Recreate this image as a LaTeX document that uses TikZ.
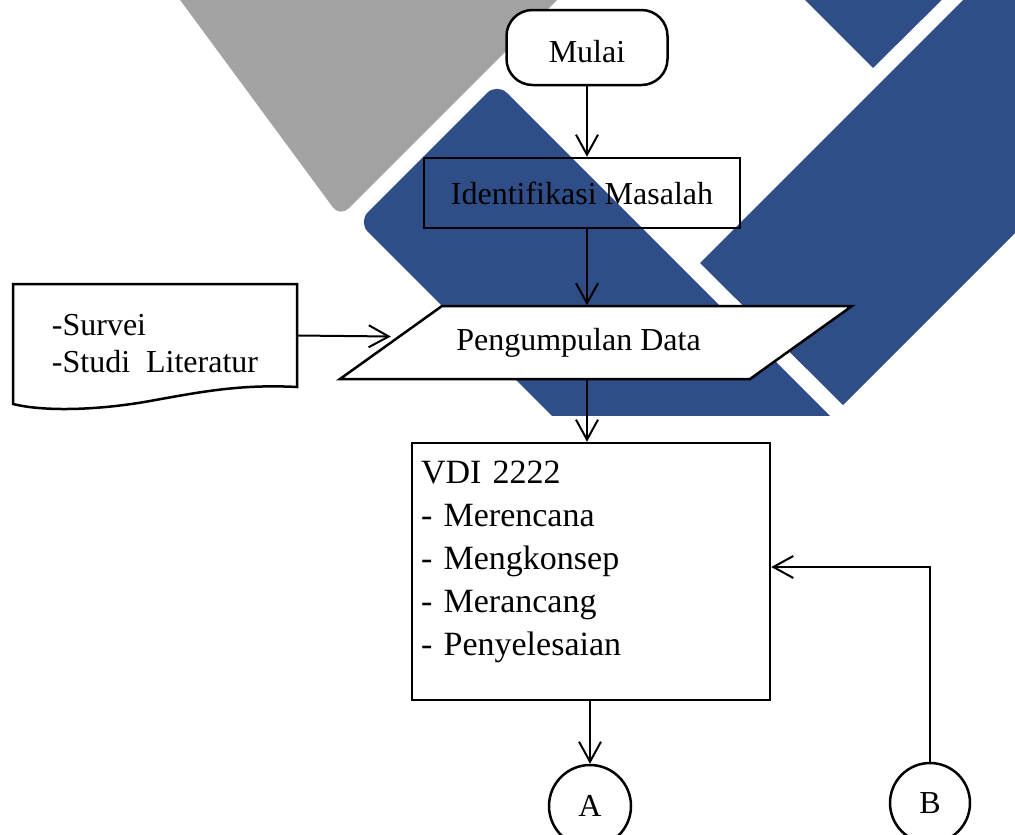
\documentclass[tikz,border=0pt]{standalone}
\usepackage{fontspec}
\setmainfont{Liberation Serif}
\usetikzlibrary{arrows.meta,calc}
\definecolor{bandblue}{RGB}{47,78,136}
\definecolor{bandgray}{RGB}{163,163,163}
\pgfdeclarelayer{backdrop}
\pgfdeclarelayer{outline}
\pgfsetlayers{backdrop,outline,main}
\begin{document}
\begin{tikzpicture}[x=1pt,y=-1pt,
  every node/.style={font=\fontsize{32}{43}\selectfont},
  flowbox/.style={draw, line width=2.5pt, rectangle},
  shapeline/.style={draw, line width=2.5pt, fill=white},
  conn/.style={line width=2pt, -{Straight Barb[length=20pt,width=22pt]}}]
\useasboundingbox (0,0) rectangle (1015,835);

% decorative bands behind the chart
\begin{pgfonlayer}{backdrop}
  \begin{scope}
    \clip (0,0) rectangle (1015,415);
    \fill[bandgray, rounded corners=12pt] (158,-30) -- (340,217) -- (587,-30) -- cycle;
    \fill[bandblue, rounded corners=14pt] (358,222) -- (497,83) -- (900,486) -- (622,486) -- cycle;
    \fill[bandblue] (993,-30) -- (700,263) -- (843,405) -- (1060,188) -- (1060,-30) -- cycle;
    \fill[bandblue] (775,-30) -- (873,68) -- (972,-30) -- cycle;
  \end{scope}
\end{pgfonlayer}

% flowchart nodes
\node[flowbox, rounded corners=26pt, fill=white, minimum width=161pt, minimum height=75pt,
      text height=30pt, text depth=0pt] (mulai) at (587,47.5) {Mulai};
\node[flowbox, minimum width=316pt, minimum height=70pt] (ident) at (582,193) {Identifikasi Masalah};
\node[minimum width=410pt, minimum height=74pt, inner sep=0pt] (pd) at (596,342.5) {Pengumpulan Data\kern35pt};
\node[minimum width=284pt, minimum height=119pt, inner sep=0pt, align=left,
      font=\fontsize{32}{37}\selectfont] (doc) at (155,343.5) {-Survei\\-Studi\ \ Literatur};
\node[flowbox, minimum width=358pt, minimum height=257pt, inner xsep=8pt, text width=340pt, align=left,
      font=\fontsize{34}{43}\selectfont] (vdi) at (591,571.5)
  {VDI 2222\\- Merencana\\- Mengkonsep\\- Merancang\\- Penyelesaian\\[-16pt]\mbox{}};
\node[draw, circle, line width=2.5pt, fill=white, minimum size=82pt, inner sep=0pt] (A) at (590,806) {A};
\node[draw, circle, line width=2.5pt, fill=white, minimum size=80pt, inner sep=0pt] (B) at (930,803) {B};

% outlines of the data and document symbols
\begin{pgfonlayer}{outline}
  \begin{scope}[shift={(pd.center)}]
    \path[shapeline] (-154,-36.5) -- (256,-36.5) -- (154,36.5) -- (-256,36.5) -- cycle;
  \end{scope}
  \begin{scope}[shift={(doc.center)}]
    \path[shapeline] (-142,60.5) -- (-142,-59.5) -- (142,-59.5) -- (142,43.5)
      .. controls (85,40.5) and (45,48.5) .. (-5,57.5)
      .. controls (-55,66.5) and (-110,68.5) .. (-142,60.5) -- cycle;
  \end{scope}
\end{pgfonlayer}

% connectors
\draw[conn] (mulai.south) -- (mulai.south |- ident.north);
\draw[conn] (ident.south -| mulai.south) -- (pd.north -| mulai.south);
\draw[conn] ([yshift=8pt]doc.east) -- ([yshift=6pt]pd.west);
\draw[conn] (pd.south -| mulai.south) -- (vdi.north -| mulai.south);
\draw[conn] (vdi.south -| A.north) -- (A.north);
\draw[conn] (B.north) |- ([yshift=4.5pt]vdi.east);
\end{tikzpicture}
\end{document}
